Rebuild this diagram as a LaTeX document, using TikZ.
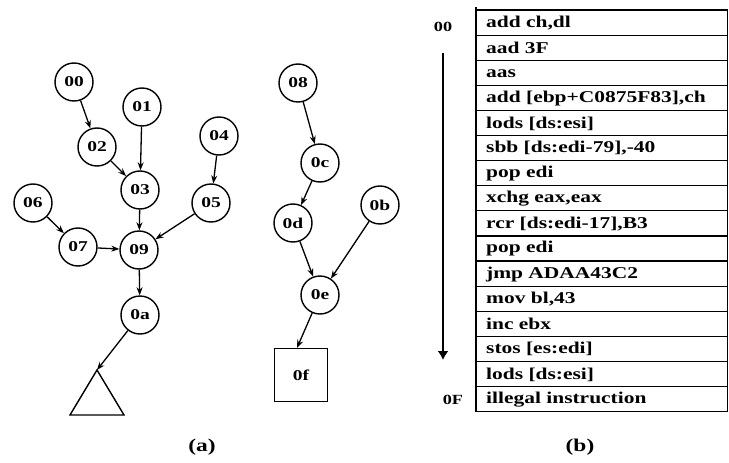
\documentclass[tikz,border=0pt]{standalone}
\usepackage{fontspec}
\setmainfont{Liberation Serif}[FakeStretch=1.3]
\usetikzlibrary{arrows.meta}

\begin{document}
\begin{tikzpicture}[x=1pt,y=-1pt,
  vert/.style={circle, draw, line width=1.4pt, minimum size=38pt, inner sep=0pt, font=\bfseries\fontsize{15}{15}\selectfont},
  leafbox/.style={draw, line width=1.2pt, minimum width=53pt, minimum height=53pt, inner sep=0pt, font=\bfseries\fontsize{15}{15}\selectfont},
  edge/.style={-{Stealth[length=8pt,width=6pt]}, line width=1.3pt},
  cell/.style={anchor=west, inner sep=0pt, font=\bfseries\fontsize{16.5}{16.5}\selectfont},
  tag/.style={font=\bfseries\fontsize{14}{14}\selectfont},
  caption/.style={font=\bfseries\fontsize{18}{18}\selectfont}]
\useasboundingbox (0,0) rectangle (729,463);

% first graph
\node[vert] (v00) at (74,82) {00};
\node[vert] (v01) at (142,107) {01};
\node[vert] (v02) at (97,147) {02};
\node[vert] (v03) at (140,190) {03};
\node[vert] (v04) at (219,136) {04};
\node[vert] (v05) at (211,203) {05};
\node[vert] (v06) at (33,203) {06};
\node[vert] (v07) at (78,247) {07};
\node[vert] (v09) at (139,250) {09};
\node[vert] (v0a) at (140,315) {0a};
\coordinate (apex) at (97,370);
\draw[line width=1.4pt] (apex) -- (70,415) -- (124,415) -- cycle;

\draw[edge] (v00) -- (v02);
\draw[edge] (v01) -- (v03);
\draw[edge] (v02) -- (v03);
\draw[edge] (v04) -- (v05);
\draw[edge] (v03) -- (v09);
\draw[edge] (v06) -- (v07);
\draw[edge] (v07) -- (v09);
\draw[edge] (v05) -- (v09);
\draw[edge] (v09) -- (v0a);
\draw[edge] (v0a) -- (apex);

% second graph
\node[vert] (v08) at (298,83) {08};
\node[vert] (v0c) at (320,163) {0c};
\node[vert] (v0d) at (293,223) {0d};
\node[vert] (v0b) at (380,205) {0b};
\node[vert] (v0e) at (320,295) {0e};
\node[leafbox] (v0f) at (301,375) {0f};

\draw[edge] (v08) -- (v0c);
\draw[edge] (v0c) -- (v0d);
\draw[edge] (v0d) -- (v0e);
\draw[edge] (v0b) -- (v0e);
\draw[edge] (v0e) -- (v0f.north -| 297,0);

\node[caption] (capa) at (202,447) {(a)};

% instruction listing
\foreach \txt [count=\i] in {{add ch,dl},{aad 3F},{aas},{add [ebp+C0875F83],ch},{lods [ds:esi]},{sbb [ds:edi-79],-40},{pop edi},{xchg eax,eax},{rcr [ds:edi-17],B3},{pop edi},{jmp ADAA43C2},{mov bl,43},{inc ebx},{stos [es:edi]},{lods [ds:esi]},{illegal instruction}}
{
  \draw[line width=1.2pt] (476,{10+(\i-1)*25.1}) rectangle (727.5,{10+\i*25.1});
  \node[cell] (row\i) at (486,{10.5+(\i-0.5)*25.1}) {\txt};
}
\draw[line width=1.2pt] (476,7) -- (476,12);

\node[tag] (first) at (443,27) {00};
\node[tag] (last) at (453,400) {0F};
\coordinate (start) at (443,53);
\coordinate (stop) at (443,360);
\draw[line width=1.8pt, -{Latex[length=9pt,width=11pt]}] (start) -- (stop);

\node[caption] (capb) at (580,447) {(b)};
\end{tikzpicture}
\end{document}
